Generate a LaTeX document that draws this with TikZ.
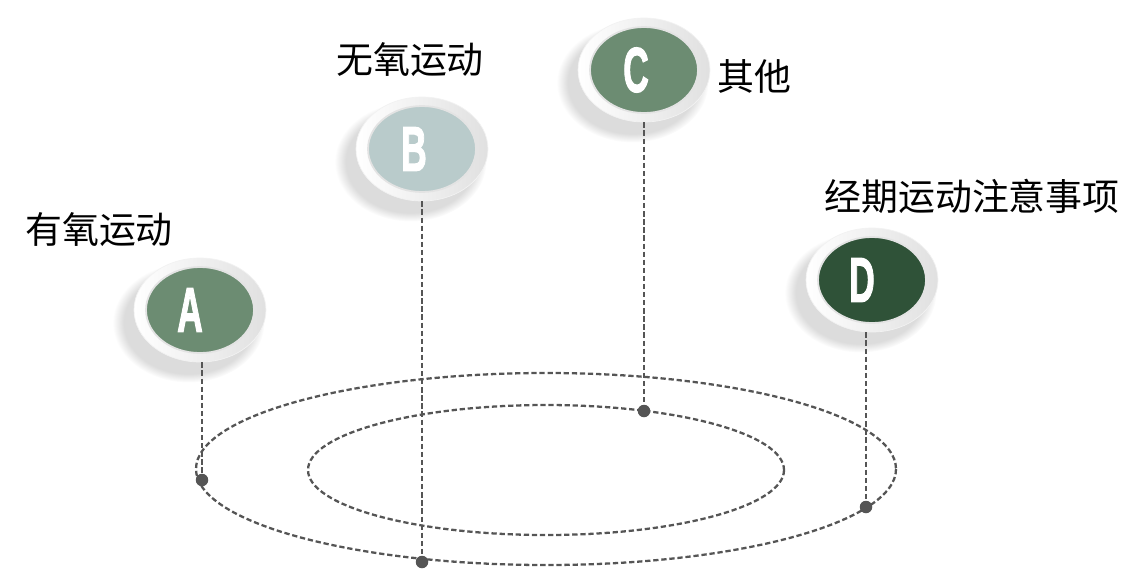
\documentclass[tikz,border=0pt]{standalone}
\usepackage{fontspec}
\newfontfamily\cjk{Noto Sans CJK SC}
\newfontfamily\letterfont[FakeBold=2.2]{Liberation Sans Bold}
\definecolor{colsage}{RGB}{108,140,114}
\definecolor{colmist}{RGB}{185,203,203}
\definecolor{colforest}{RGB}{47,82,56}
\definecolor{colline}{RGB}{85,85,85}
\usetikzlibrary{
	shapes.geometric,
	shadows,
	positioning
}
\tikzset{
	ringnode/.style={ellipse, minimum width=2.64cm, minimum height=2.08cm, inner sep=0pt,
		draw=gray!10, left color=white, right color=gray!24,
		circular drop shadow={shadow xshift=-0.2cm, shadow yshift=-0.22cm, shadow scale=1.15, opacity=0.28}},
	discnode/.style={ellipse, minimum width=2.16cm, minimum height=1.72cm, inner sep=0pt, draw=gray!22, line width=1pt},
	letternode/.style={text=white, inner sep=0pt, font=\letterfont\fontsize{36}{36}\selectfont},
	textnode/.style={inner sep=0pt, font=\cjk\fontsize{21}{25}\selectfont},
	orbit/.style={colline, line width=1.3pt, dash pattern=on 3pt off 1.6pt},
	dot/.style={circle, fill=colline, inner sep=0pt, minimum size=0.25cm}
}
\begin{document}
\begin{tikzpicture}[x=0.02cm, y=-0.02cm]
	\useasboundingbox (0,0) rectangle (1148,569);

	% orbits
	\coordinate (O) at (546,469);
	\draw[orbit] (O) ellipse [x radius=350, y radius=96];
	\draw[orbit] (546,470) ellipse [x radius=238, y radius=65];

	\node[dot] (dotA) at (202,480) {};
	\node[dot] (dotB) at (422,562) {};
	\node[dot] (dotC) at (644,411) {};
	\node[dot] (dotD) at (866,507) {};

	% rings
	\node[ringnode] (ringA) at (200,310) {};
	\node[ringnode] (ringB) at (422,149) {};
	\node[ringnode] (ringC) at (644,70) {};
	\node[ringnode] (ringD) at (872,280) {};

	\node[discnode, fill=colsage] (A) at (ringA) {};
	\node[discnode, fill=colmist] (B) at (ringB) {};
	\node[discnode, fill=colsage] (C) at (ringC) {};
	\node[discnode, fill=colforest] (D) at (ringD) {};

	\node[letternode] (letA) at ([xshift=-0.2cm]A.center) {\scalebox{0.56}[1]{A}};
	\node[letternode] (letB) at ([xshift=-0.16cm]B.center) {\scalebox{0.56}[1]{B}};
	\node[letternode] (letC) at ([xshift=-0.16cm]C.center) {\scalebox{0.56}[1]{C}};
	\node[letternode] (letD) at ([xshift=-0.2cm]D.center) {\scalebox{0.56}[1]{D}};

	% stems
	\draw[orbit] (ringA.south -| dotA) -- (dotA);
	\draw[orbit] (ringB.south -| dotB) -- (dotB);
	\draw[orbit] (ringC.south -| dotC) -- (dotC);
	\draw[orbit] (ringD.south -| dotD) -- (dotD);

	% labels
	\node[textnode] (labA) at (99,230) {有氧运动};
	\node[textnode] (labB) at (410,60) {无氧运动};
	\node[textnode] (labC) at (754,76) {其他};
	\node[textnode] (labD) at (972,196) {经期运动注意事项};
\end{tikzpicture}
\end{document}
